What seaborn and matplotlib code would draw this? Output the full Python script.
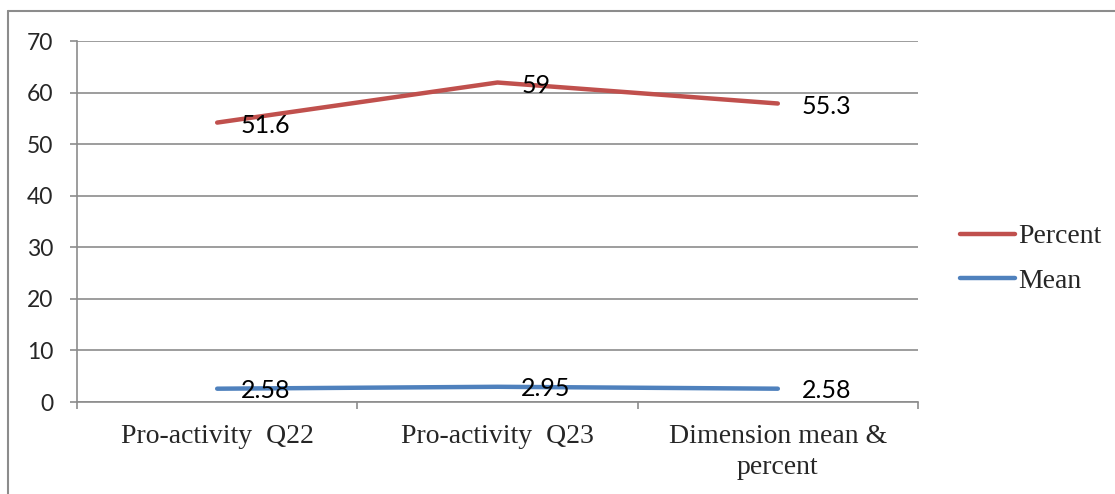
import numpy as np
import pandas as pd
import matplotlib
matplotlib.use("Agg")
import matplotlib.pyplot as plt
from matplotlib.lines import Line2D
import seaborn as sns

categories = ["Pro-activity  Q22", "Pro-activity  Q23", "Dimension mean &\npercent"]
mean_values = [2.58, 2.95, 2.58]
percent_values = [51.6, 59, 55.3]
y_ticks = [0, 10, 20, 30, 40, 50, 60, 70]

RED = "#C0504D"
BLUE = "#4F81BD"
GRID = "#8C8C8C"

sns.set_theme(style="white")
plt.rcParams["font.family"] = ["Lato", "DejaVu Sans"]

# Excel stacked line: Percent sits on top of Mean
x = np.arange(len(categories))
stacked_percent = np.array(mean_values) + np.array(percent_values)
df = pd.DataFrame({"x": np.concatenate([x, x]),
                   "y": np.concatenate([stacked_percent, mean_values]),
                   "series": ["Percent"] * 3 + ["Mean"] * 3})

fig = plt.figure(figsize=(11.15, 4.94), dpi=100)
ax = fig.add_axes([77 / 1115, 1 - 402 / 494, (918 - 77) / 1115, (402 - 41) / 494])

sns.lineplot(data=df, x="x", y="y", hue="series", palette={"Percent": RED, "Mean": BLUE},
             linewidth=3.2, ax=ax, legend=False, solid_capstyle="round")

ax.set_xlim(-0.5, 2.5)
ax.set_ylim(0, 70)
ax.set_yticks(y_ticks)
ax.set_yticklabels([str(t) for t in y_ticks], fontsize=16.5)
ax.yaxis.grid(True, color=GRID, linewidth=1.2)
ax.set_axisbelow(True)
ax.set_xlabel("")
ax.set_ylabel("")

ax.set_xticks([-0.5, 0.5, 1.5, 2.5])
ax.set_xticklabels([])
ax.set_xticks(x, minor=True)
ax.set_xticklabels(categories, minor=True, fontsize=20,
                   fontfamily=["Liberation Serif"], linespacing=1.3)
ax.tick_params(axis="x", which="major", direction="out", length=5, width=1.2, color=GRID, bottom=True)
ax.tick_params(axis="x", which="minor", length=0, pad=16)
ax.tick_params(axis="y", direction="out", length=5, width=1.2, color=GRID, left=True, pad=12)

for side in ["top", "right"]:
    ax.spines[side].set_visible(False)
for side in ["left", "bottom"]:
    ax.spines[side].set_color(GRID)
    ax.spines[side].set_linewidth(1.2)

for xi, yv, lab in zip(x, stacked_percent, percent_values):
    ax.annotate(f"{lab:g}", (xi, yv), xytext=(17, -2), textcoords="offset points",
                ha="left", va="center", fontsize=18, color="black")
for xi, yv, lab in zip(x, mean_values, mean_values):
    ax.annotate(f"{lab:g}", (xi, yv), xytext=(17, -1), textcoords="offset points",
                ha="left", va="center", fontsize=18, color="black")

handles = [Line2D([], [], color=RED, linewidth=3.2, solid_capstyle="round"),
           Line2D([], [], color=BLUE, linewidth=3.2, solid_capstyle="round")]
fig.legend(handles, ["Percent", "Mean"], loc="center left",
           bbox_to_anchor=(946 / 1115, 1 - 259 / 494), frameon=False,
           prop={"family": "Liberation Serif", "size": 20},
           handlelength=2.0, handletextpad=0.1, labelspacing=0.7, borderpad=0)

# chart border (top and left visible in reference)
fig.add_artist(Line2D([8 / 1115, 8 / 1115], [0, 1 - 11 / 494], transform=fig.transFigure,
                      color=GRID, linewidth=1.5))
fig.add_artist(Line2D([8 / 1115, 1], [1 - 11 / 494, 1 - 11 / 494], transform=fig.transFigure,
                      color=GRID, linewidth=1.5))

fig.savefig("out.png", dpi=100)
